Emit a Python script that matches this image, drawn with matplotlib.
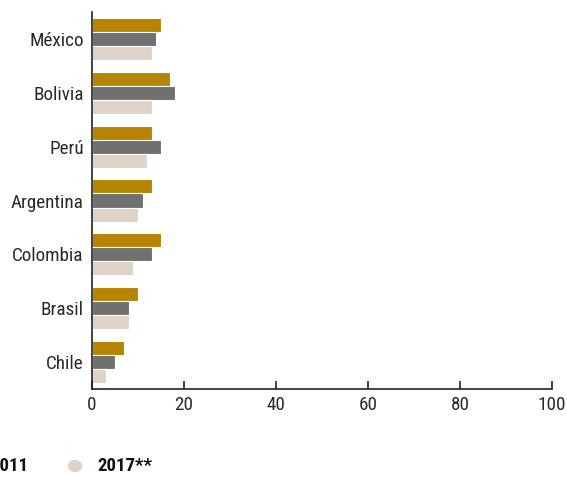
""" horizontal grouped bars by country """

import matplotlib.pyplot as plt
from matplotlib.patches import Circle
import numpy as np

plt.rcParams['font.family'] = ['Roboto Condensed', 'DejaVu Sans']

countries = ['México', 'Bolivia', 'Perú', 'Argentina', 'Colombia', 'Brasil', 'Chile']
series_labels = ['2002', '2011', '2017**']
values_a = [15, 17, 13, 13, 15, 10, 7]
values_b = [14, 18, 15, 11, 13, 8, 5]
values_c = [13, 13, 12, 10, 9, 8, 3]
colors = ['#B78400', '#707070', '#DED3C7']
xticks = [0, 20, 40, 60, 80, 100]

fig = plt.figure(figsize=(5.67, 4.79), dpi=100)
ax = fig.add_axes([92 / 567, 1 - 389 / 479, 460 / 567, 377 / 479])

y = np.arange(len(countries))
step = 0.26
for i, vals in enumerate([values_a, values_b, values_c]):
    ax.barh(y + (i - 1) * step, vals, height=step, color=colors[i],
            edgecolor='white', linewidth=0.8)

ax.set_xlim(0, 100)
ax.set_ylim(len(countries) - 0.5, -0.5)
ax.set_yticks(y)
ax.set_yticklabels(countries, fontsize=13.8, color='#2a2a2a')
ax.set_xticks(xticks)
ax.set_xticklabels([str(t) for t in xticks], fontsize=13.8, color='#2a2a2a')
ax.tick_params(axis='y', length=0, pad=6)
ax.tick_params(axis='x', direction='in', length=6, width=1.2, color='#222222', pad=5)
for side in ['top', 'right']:
    ax.spines[side].set_visible(False)
for side in ['left', 'bottom']:
    ax.spines[side].set_linewidth(1.2)
    ax.spines[side].set_color('#222222')

# legend row, partly cut by the left edge
leg_y = 1 - 466 / 479
leg_x = [-124, -32, 75]
for lx, lab, col in zip(leg_x, series_labels, colors):
    fig.patches.append(Circle((lx / 567, leg_y), 6.5 / 567, color=col,
                              transform=fig.transFigure))
    fig.text((lx + 22) / 567, leg_y, lab, fontsize=13.5, fontweight='bold',
             va='center', ha='left', color='#111111')

fig.savefig('out.png', dpi=100)
